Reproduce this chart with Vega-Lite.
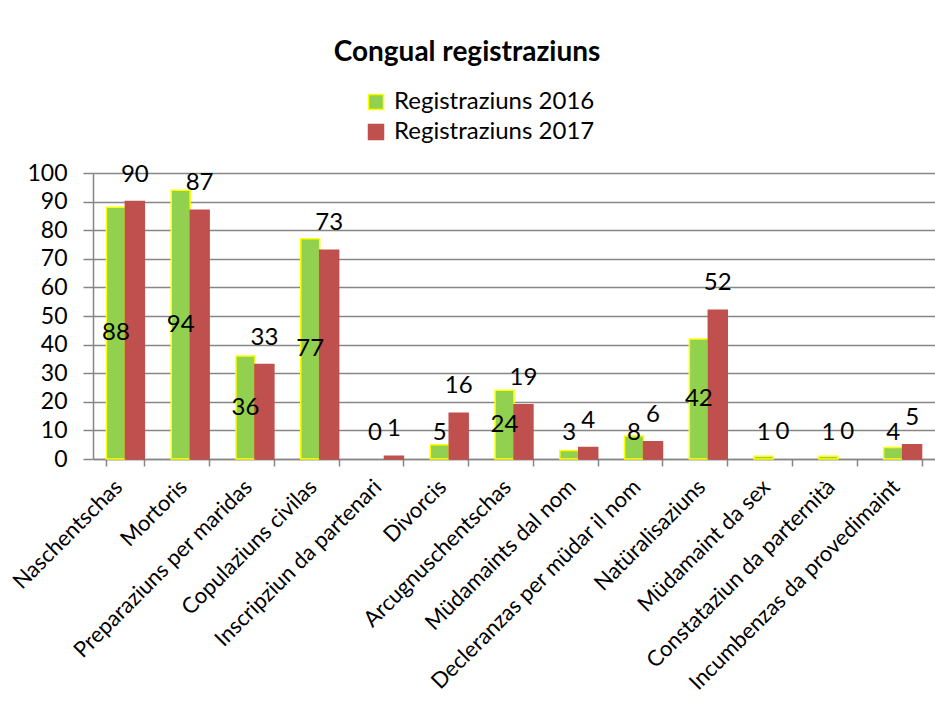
{
  "$schema": "https://vega.github.io/schema/vega-lite/v6.json",
  "width": 842,
  "height": 286,
  "autosize": {"type": "none"},
  "padding": {"left": 93, "top": 173, "right": 0, "bottom": 253},
  "background": "white",
  "title": {
    "text": "Congual registraziuns",
    "font": "Lato",
    "fontSize": 28,
    "fontWeight": "bold",
    "color": "black",
    "anchor": "middle",
    "baseline": "alphabetic",
    "offset": 1,
    "dx": -47
  },
  "data": {
    "values": [
      {"category": "Naschentschas", "series": "Registraziuns 2016", "value": 88},
      {"category": "Naschentschas", "series": "Registraziuns 2017", "value": 90},
      {"category": "Mortoris", "series": "Registraziuns 2016", "value": 94},
      {"category": "Mortoris", "series": "Registraziuns 2017", "value": 87},
      {"category": "Preparaziuns per maridas", "series": "Registraziuns 2016", "value": 36},
      {"category": "Preparaziuns per maridas", "series": "Registraziuns 2017", "value": 33},
      {"category": "Copulaziuns civilas", "series": "Registraziuns 2016", "value": 77},
      {"category": "Copulaziuns civilas", "series": "Registraziuns 2017", "value": 73},
      {"category": "Inscripziun da partenari", "series": "Registraziuns 2016", "value": 0},
      {"category": "Inscripziun da partenari", "series": "Registraziuns 2017", "value": 1},
      {"category": "Divorcis", "series": "Registraziuns 2016", "value": 5},
      {"category": "Divorcis", "series": "Registraziuns 2017", "value": 16},
      {"category": "Arcugnuschentschas", "series": "Registraziuns 2016", "value": 24},
      {"category": "Arcugnuschentschas", "series": "Registraziuns 2017", "value": 19},
      {"category": "Müdamaints dal nom", "series": "Registraziuns 2016", "value": 3},
      {"category": "Müdamaints dal nom", "series": "Registraziuns 2017", "value": 4},
      {"category": "Decleranzas per müdar il nom", "series": "Registraziuns 2016", "value": 8},
      {"category": "Decleranzas per müdar il nom", "series": "Registraziuns 2017", "value": 6},
      {"category": "Natüralisaziuns", "series": "Registraziuns 2016", "value": 42},
      {"category": "Natüralisaziuns", "series": "Registraziuns 2017", "value": 52},
      {"category": "Müdamaint da sex", "series": "Registraziuns 2016", "value": 1},
      {"category": "Müdamaint da sex", "series": "Registraziuns 2017", "value": 0},
      {"category": "Constataziun da parternità", "series": "Registraziuns 2016", "value": 1},
      {"category": "Constataziun da parternità", "series": "Registraziuns 2017", "value": 0},
      {"category": "Incumbenzas da provedimaint", "series": "Registraziuns 2016", "value": 4},
      {"category": "Incumbenzas da provedimaint", "series": "Registraziuns 2017", "value": 5}
    ]
  },
  "encoding": {
    "x": {
      "field": "category",
      "type": "nominal",
      "sort": null,
      "scale": {"paddingInner": 0.415, "paddingOuter": 0.2075},
      "axis": {
        "title": null,
        "labelAngle": -45,
        "labelAlign": "right",
        "labelBaseline": "middle",
        "labelFont": "Lato",
        "labelFontSize": 22,
        "labelColor": "black",
        "labelLimit": 600,
        "labelPadding": 17,
        "labelOffset": -7,
        "labelOverlap": false,
        "tickBand": "extent",
        "tickSize": 7,
        "tickWidth": 1.5,
        "tickColor": "#868686",
        "domainColor": "#868686",
        "domainWidth": 1.5,
        "grid": false
      }
    },
    "xOffset": {"field": "series", "type": "nominal"}
  },
  "layer": [
    {
      "mark": {"type": "bar"},
      "encoding": {
        "y": {
          "field": "value",
          "type": "quantitative",
          "scale": {"domain": [0, 100]},
          "axis": {
            "title": null,
            "values": [0, 10, 20, 30, 40, 50, 60, 70, 80, 90, 100],
            "labelOverlap": false,
            "grid": true,
            "gridColor": "#868686",
            "gridWidth": 1.5,
            "domainColor": "#868686",
            "domainWidth": 1.5,
            "tickColor": "#868686",
            "tickWidth": 1.5,
            "tickSize": 10,
            "labelFont": "Lato",
            "labelFontSize": 23,
            "labelColor": "black",
            "labelPadding": 16
          }
        },
        "fill": {
          "field": "series",
          "type": "nominal",
          "scale": {"domain": ["Registraziuns 2016", "Registraziuns 2017"], "range": ["#92D050", "#C0504D"]},
          "legend": {"title": null}
        },
        "stroke": {
          "field": "series",
          "type": "nominal",
          "scale": {"domain": ["Registraziuns 2016", "Registraziuns 2017"], "range": ["#FFFF00", "#C0504D"]},
          "legend": {"title": null}
        },
        "strokeWidth": {"condition": {"test": "datum.value === 0", "value": 0}, "value": 1.5}
      }
    },
    {
      "transform": [{"filter": "datum.series === 'Registraziuns 2017'"}],
      "mark": {"type": "text", "baseline": "middle", "dy": -27, "font": "Lato", "fontSize": 24, "color": "black"},
      "encoding": {
        "y": {
          "field": "value",
          "type": "quantitative",
          "axis": {
            "title": null,
            "values": [0, 10, 20, 30, 40, 50, 60, 70, 80, 90, 100],
            "labelOverlap": false,
            "grid": true,
            "gridColor": "#868686",
            "gridWidth": 1.5,
            "domainColor": "#868686",
            "domainWidth": 1.5,
            "tickColor": "#868686",
            "tickWidth": 1.5,
            "tickSize": 10,
            "labelFont": "Lato",
            "labelFontSize": 23,
            "labelColor": "black",
            "labelPadding": 16
          }
        },
        "text": {"field": "value", "type": "quantitative"}
      }
    },
    {
      "transform": [
        {"filter": "datum.series === 'Registraziuns 2016'"},
        {"calculate": "max(datum.value / 2, 9.1)", "as": "labelPos"}
      ],
      "mark": {"type": "text", "baseline": "middle", "font": "Lato", "fontSize": 24, "color": "black"},
      "encoding": {
        "y": {
          "field": "labelPos",
          "type": "quantitative",
          "axis": {
            "title": null,
            "values": [0, 10, 20, 30, 40, 50, 60, 70, 80, 90, 100],
            "labelOverlap": false,
            "grid": true,
            "gridColor": "#868686",
            "gridWidth": 1.5,
            "domainColor": "#868686",
            "domainWidth": 1.5,
            "tickColor": "#868686",
            "tickWidth": 1.5,
            "tickSize": 10,
            "labelFont": "Lato",
            "labelFontSize": 23,
            "labelColor": "black",
            "labelPadding": 16
          }
        },
        "text": {"field": "value", "type": "quantitative"}
      }
    }
  ],
  "config": {
    "view": {"stroke": null},
    "legend": {
      "orient": "none",
      "legendX": 271,
      "legendY": -83,
      "padding": 0,
      "symbolType": "square",
      "symbolSize": 225,
      "symbolStrokeWidth": 1.5,
      "labelFont": "Lato",
      "labelFontSize": 24,
      "labelColor": "black",
      "labelOffset": 6,
      "rowPadding": 6,
      "labelLimit": 400
    }
  }
}
